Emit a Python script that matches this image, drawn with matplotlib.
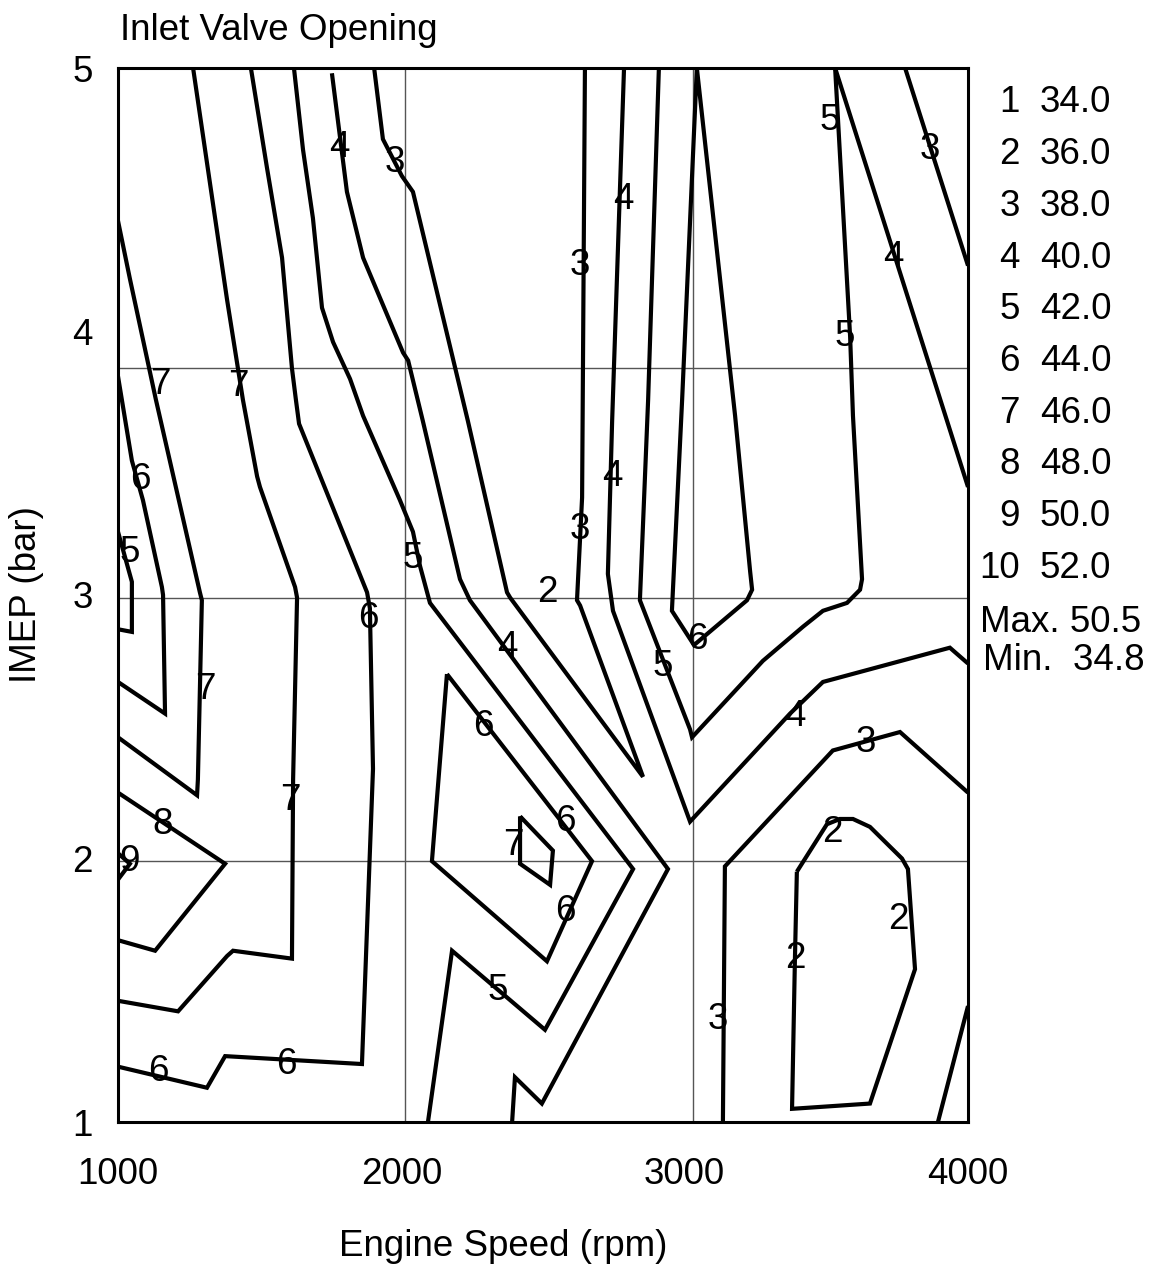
import matplotlib
matplotlib.use("Agg")
import matplotlib.pyplot as plt

plt.rcParams['font.family'] = ['Liberation Sans', 'DejaVu Sans']

# contour lines, engine speed (rpm) / IMEP (bar)
c7a_rpm = [1000, 1042, 1134, 1289, 1296, 1282, 1279, 1000]
c7a_imep = [4.42, 4.20, 3.74, 3.01, 2.98, 2.30, 2.24, 2.46]
c6a_rpm = [1000, 1049, 1088, 1155, 1159, 1166, 1000]
c6a_imep = [3.83, 3.51, 3.36, 3.03, 3.00, 2.55, 2.67]
c5a_rpm = [1000, 1049, 1049, 1000]
c5a_imep = [3.24, 3.05, 2.86, 2.87]
c7b_rpm = [1265, 1385, 1441, 1491, 1501, 1625, 1632, 1618, 1614, 1406, 1385, 1212, 1000]
c7b_imep = [5.00, 4.12, 3.74, 3.45, 3.41, 3.03, 2.99, 2.30, 1.62, 1.65, 1.63, 1.42, 1.46]
c6b_rpm = [1469, 1526, 1579, 1614, 1628, 1639, 1879, 1889, 1900, 1861, 1378, 1314, 1000]
c6b_imep = [5.00, 4.62, 4.28, 3.86, 3.74, 3.65, 3.01, 2.95, 2.34, 1.22, 1.25, 1.13, 1.21]
c5b_rpm = [1621, 1653, 1688, 1720, 1759, 1819, 1865, 1995, 2041, 2066, 2101, 2818, 2507, 2179, 2094]
c5b_imep = [5.00, 4.69, 4.43, 4.09, 3.96, 3.82, 3.68, 3.36, 3.24, 3.11, 2.97, 1.96, 1.35, 1.65, 1.00]
c4a_rpm = [1755, 1808, 1865, 2006, 2024, 2076, 2207, 2242, 2941, 2496, 2401, 2391]
c4a_imep = [4.98, 4.53, 4.28, 3.92, 3.89, 3.66, 3.06, 2.98, 1.96, 1.07, 1.17, 1.00]
c3a_rpm = [1904, 1935, 2002, 2041, 2235, 2373, 2384, 2853, 2631, 2620, 2638, 2648]
c3a_imep = [5.00, 4.73, 4.59, 4.53, 3.66, 3.01, 2.99, 2.31, 2.96, 2.98, 3.37, 5.00]
c4b_rpm = [2786, 2744, 2729, 2747, 3019, 3372, 3488, 3936, 4000]
c4b_imep = [5.00, 3.66, 3.08, 2.94, 2.14, 2.55, 2.67, 2.80, 2.74]
c5c_rpm = [2909, 2871, 2842, 3019, 3026, 3276, 3418, 3488, 3573, 3619, 3626, 3594, 3584, 3531]
c5c_imep = [5.00, 3.74, 2.98, 2.49, 2.46, 2.75, 2.88, 2.94, 2.97, 3.02, 3.06, 3.68, 3.98, 5.00]
c6c_rpm = [3043, 2991, 2955, 3033, 3220, 3238, 3231, 3178, 3043]
c6c_imep = [5.00, 3.74, 2.94, 2.81, 2.98, 3.02, 3.09, 3.68, 5.00]
c6d_rpm = [2161, 2108, 2514, 2673, 2161]
c6d_imep = [2.70, 1.99, 1.61, 1.99, 2.70]
c7c_rpm = [2419, 2535, 2525, 2419, 2419]
c7c_imep = [2.16, 2.03, 1.90, 1.98, 2.16]
c8_rpm = [1000, 1378, 1131, 1000]
c8_imep = [2.25, 1.98, 1.65, 1.69]
c9_rpm = [1000, 1042, 1000]
c9_imep = [2.02, 1.98, 1.92]
c2_rpm = [3396, 3502, 3548, 3594, 3654, 3767, 3788, 3813, 3654, 3379, 3389, 3396]
c2_imep = [1.95, 2.13, 2.15, 2.15, 2.12, 2.00, 1.96, 1.58, 1.07, 1.05, 1.61, 1.95]
c3b_rpm = [3135, 3142, 3523, 3760, 4000]
c3b_imep = [1.00, 1.97, 2.41, 2.48, 2.25]
c4c_rpm = [3894, 4000]
c4c_imep = [1.00, 1.44]
c3c_rpm = [3778, 4000]
c3c_imep = [5.00, 4.25]
c4d_rpm = [3531, 4000]
c4d_imep = [5.00, 3.41]

# contour labels
lab_text = ["4", "3", "4", "3", "5", "3", "4", "5", "7", "7", "6", "4", "3", "5", "5", "2",
            "6", "6", "4", "5", "7", "4", "6", "3", "7", "8", "6", "2", "7", "9", "6", "2",
            "2", "5", "3", "6", "6"]
lab_rpm = [1783, 1978, 2782, 2631, 3513, 3866, 3735, 3566, 1148, 1424, 1078, 2744, 2631, 1042, 2041, 2514,
           1882, 3044, 2373, 2924, 1307, 3389, 2288, 3640, 1607, 1159, 2578, 3520, 2394, 1042, 2578, 3753,
           3389, 2341, 3118, 1596, 1141]
lab_imep = [4.70, 4.64, 4.50, 4.25, 4.80, 4.69, 4.28, 3.98, 3.80, 3.79, 3.44, 3.45, 3.25, 3.16, 3.14, 3.01,
            2.91, 2.83, 2.80, 2.73, 2.64, 2.54, 2.50, 2.44, 2.22, 2.13, 2.14, 2.10, 2.05, 1.99, 1.80, 1.77,
            1.62, 1.50, 1.39, 1.22, 1.19]

# legend of levels
level_ids = ["1", "2", "3", "4", "5", "6", "7", "8", "9", "10"]
level_values = [34.0, 36.0, 38.0, 40.0, 42.0, 44.0, 46.0, 48.0, 50.0, 52.0]
max_value = 50.5
min_value = 34.8

x_ticks = [1000, 2000, 3000, 4000]
y_ticks = [1, 2, 3, 4, 5]
grid_x = [2012, 3029]
grid_y = [1.99, 2.99, 3.86]

FS = 26.5
W, H = 1164, 1270
fig = plt.figure(figsize=(W / 100, H / 100), dpi=100)
ax = fig.add_axes([118 / W, 1 - 1122 / H, 850 / W, 1054 / H])

for gx in grid_x:
    ax.axvline(gx, color="#555555", lw=1.0, zorder=1)
for gy in grid_y:
    ax.axhline(gy, color="#555555", lw=1.0, zorder=1)

contours = [
    (c7a_rpm, c7a_imep), (c6a_rpm, c6a_imep), (c5a_rpm, c5a_imep),
    (c7b_rpm, c7b_imep), (c6b_rpm, c6b_imep), (c5b_rpm, c5b_imep),
    (c4a_rpm, c4a_imep), (c3a_rpm, c3a_imep), (c4b_rpm, c4b_imep),
    (c5c_rpm, c5c_imep), (c6c_rpm, c6c_imep), (c6d_rpm, c6d_imep),
    (c7c_rpm, c7c_imep), (c8_rpm, c8_imep), (c9_rpm, c9_imep),
    (c2_rpm, c2_imep), (c3b_rpm, c3b_imep), (c4c_rpm, c4c_imep),
    (c3c_rpm, c3c_imep), (c4d_rpm, c4d_imep),
]
for xs, ys in contours:
    ax.plot(xs, ys, color="black", lw=3.0, solid_joinstyle="miter",
            solid_capstyle="butt", zorder=2)

for t, xr, yi in zip(lab_text, lab_rpm, lab_imep):
    ax.text(xr, yi, t, ha="center", va="center", fontsize=26.5, zorder=3)

ax.set_xlim(1000, 4000)
ax.set_ylim(1, 5)
ax.set_xticks(x_ticks)
ax.set_xticklabels([str(v) for v in x_ticks])
ax.set_yticks(y_ticks)
ax.set_yticklabels([str(v) for v in y_ticks])
ax.tick_params(axis="both", length=0, labelsize=FS)
ax.tick_params(axis="x", pad=25)
ax.tick_params(axis="y", pad=18)
for sp in ax.spines.values():
    sp.set_linewidth(2.2)

fig.text(120 / W, 1 - 40 / H, "Inlet Valve Opening", fontsize=FS, ha="left", va="baseline")
fig.text(503 / W, 1 - 1246 / H, "Engine Speed (rpm)", fontsize=FS, ha="center", va="center")
fig.text(27 / W, 1 - 595 / H, "IMEP (bar)", fontsize=FS, ha="center", va="center", rotation=90)

row_y = 103
for lid, val in zip(level_ids, level_values):
    fig.text(1020 / W, 1 - row_y / H, lid, fontsize=FS, ha="right", va="center")
    fig.text(1040 / W, 1 - row_y / H, f"{val:.1f}", fontsize=FS, ha="left", va="center")
    row_y += 51.7
fig.text(980 / W, 1 - 622 / H, f"Max. {max_value:.1f}", fontsize=FS, ha="left", va="center")
fig.text(983 / W, 1 - 660 / H, f"Min.  {min_value:.1f}", fontsize=FS, ha="left", va="center")

fig.savefig("out.png", dpi=100)
